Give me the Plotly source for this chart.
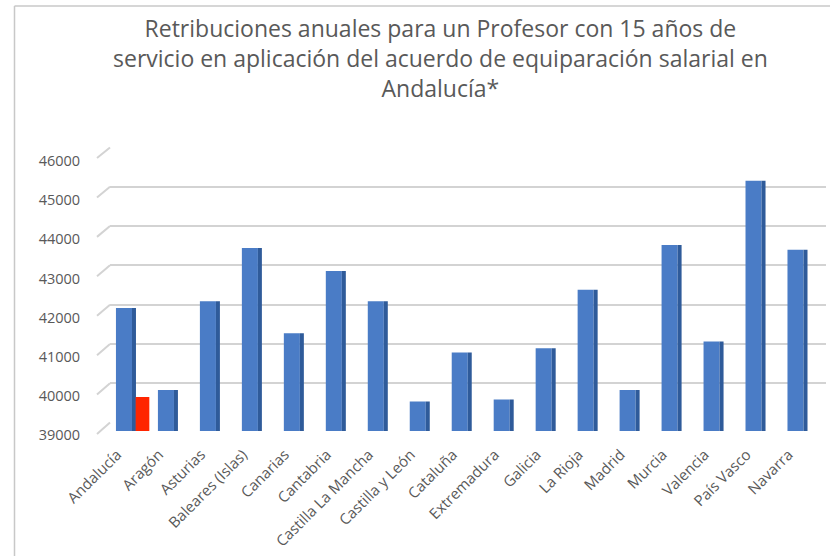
import plotly.graph_objects as go

# ---- data ----
categories = ["Andalucía", "Aragón", "Asturias", "Baleares (Islas)", "Canarias",
              "Cantabria", "Castilla La Mancha", "Castilla y León", "Cataluña",
              "Extremadura", "Galicia", "La Rioja", "Madrid", "Murcia",
              "Valencia", "País Vasco", "Navarra"]
salaries = [42120, 40040, 42290, 43640, 41480, 43060, 42290, 39750, 40990,
            39800, 41100, 42580, 40040, 43720, 41270, 45350, 43600]
red_category = ["Andalucía"]
red_values = [39860]
tick_values = [39000, 40000, 41000, 42000, 43000, 44000, 45000, 46000]
tick_labels = [str(v) for v in tick_values]
title_text = ("Retribuciones anuales para un Profesor con 15 años de<br>"
              "servicio en aplicación del acuerdo de equiparación salarial en<br>"
              "Andalucía*")

W, H = 830, 556
YMIN, YMAX = 39000, 46000

# front (bars) and back (gridlines) plot regions in pixels
FX0, FX1, FY_TOP, FY_BOT = 105, 818.5, 155, 431
BX0, BX1, BY_TOP, BY_BOT = 110, 826, 147.5, 422.5
# label axes (slightly shifted, as in the reference)
LX_SHIFT = -9
LY_TOP, LY_BOT = 161, 435

def fx(px):
    return px / W

def fy(py):
    return 1 - py / H

font_family = "Open Sans, Lato, sans-serif"
grey = "#595959"

fig = go.Figure()

# front faces
fig.add_trace(go.Bar(
    x=categories, y=salaries, xaxis="x2", yaxis="y2",
    offset=-0.239, width=0.382,
    marker=dict(color="#4A7CC6", line=dict(width=0)),
    showlegend=False, hoverinfo="x+y"))
# side faces (3D effect)
fig.add_trace(go.Bar(
    x=categories, y=salaries, xaxis="x2", yaxis="y2",
    offset=0.143, width=0.095,
    marker=dict(color="#2F5B9A", line=dict(width=0)),
    showlegend=False, hoverinfo="skip"))
# red bar
fig.add_trace(go.Bar(
    x=red_category, y=red_values, xaxis="x2", yaxis="y2",
    offset=0.231, width=0.325,
    marker=dict(color="#FF2500", line=dict(width=0)),
    showlegend=False, hoverinfo="x+y"))
# invisible helper traces so the grid / label axes are drawn
fig.add_trace(go.Scatter(x=[0], y=[YMIN], xaxis="x", yaxis="y", mode="markers",
                         marker=dict(opacity=0), showlegend=False, hoverinfo="skip"))
fig.add_trace(go.Scatter(x=[0], y=[YMIN], xaxis="x3", yaxis="y3", mode="markers",
                         marker=dict(opacity=0), showlegend=False, hoverinfo="skip"))

grid_col = "#D3D3D3"

shapes = []
# side-wall diagonal grid segments
for v in tick_values:
    frac = (v - YMIN) / (YMAX - YMIN)
    y_front = 158 + (1 - frac) * (434 - 158)
    y_back = BY_BOT - frac * (BY_BOT - BY_TOP)
    shapes.append(dict(type="line", xref="paper", yref="paper",
                       x0=fx(97), y0=fy(y_front), x1=fx(BX0), y1=fy(y_back),
                       line=dict(color=grid_col, width=2), layer="below"))
# chart border (top and left)
shapes.append(dict(type="line", xref="paper", yref="paper",
                   x0=fx(14.5), y0=fy(6), x1=1.0, y1=fy(6),
                   line=dict(color="#C8C8C8", width=1.5)))
shapes.append(dict(type="line", xref="paper", yref="paper",
                   x0=fx(14.5), y0=fy(6), x1=fx(14.5), y1=0,
                   line=dict(color="#C8C8C8", width=1.5)))

n = len(categories)
fig.update_layout(
    width=W, height=H,
    margin=dict(l=0, r=0, t=0, b=0),
    paper_bgcolor="white", plot_bgcolor="rgba(0,0,0,0)",
    barmode="overlay",
    font=dict(family=font_family, color=grey),
    annotations=[dict(text=title_text, x=fx(440), y=fy(58), xref="paper",
                      yref="paper", xanchor="center", yanchor="middle",
                      showarrow=False, align="center",
                      font=dict(size=23, color=grey, family=font_family))],
    # back wall gridlines
    xaxis=dict(domain=[fx(BX0), fx(BX1)], range=[0, 1], anchor="y",
               showgrid=False, zeroline=False, showticklabels=False,
               showline=False, fixedrange=True),
    yaxis=dict(domain=[fy(BY_BOT), fy(BY_TOP)], range=[YMIN, YMAX], anchor="x",
               tickvals=tick_values, showgrid=True, gridcolor=grid_col,
               gridwidth=2, zeroline=False, showticklabels=False,
               showline=False, fixedrange=True),
    # bars
    xaxis2=dict(domain=[fx(FX0), fx(FX1)], anchor="y2",
                range=[-0.5, n - 0.5],
                categoryorder="array", categoryarray=categories,
                showticklabels=False, showgrid=False,
                zeroline=False, showline=False, automargin=False),
    yaxis2=dict(domain=[fy(FY_BOT), fy(FY_TOP)], anchor="x2",
                range=[YMIN, YMAX], showticklabels=False, showgrid=False,
                zeroline=False, showline=False, automargin=False),
    # tick labels
    xaxis3=dict(domain=[fx(FX0 + LX_SHIFT), fx(FX1 + LX_SHIFT)], anchor="y3",
                range=[-0.5, n - 0.5], tickvals=list(range(n)), ticktext=categories,
                tickangle=-45, ticks="outside", ticklen=4, tickcolor="rgba(0,0,0,0)",
                tickfont=dict(size=15, color=grey), showgrid=False,
                zeroline=False, showline=False, automargin=False),
    yaxis3=dict(domain=[fy(LY_BOT), fy(LY_TOP)], anchor="x3",
                range=[YMIN, YMAX], tickvals=tick_values, ticktext=tick_labels,
                ticks="outside", ticklen=12, tickcolor="rgba(0,0,0,0)",
                tickfont=dict(size=14.5, color=grey), showgrid=False,
                zeroline=False, showline=False, automargin=False),
    shapes=shapes,
)

fig.write_html("out.html", config={"displayModeBar": False},
               post_script="document.body.style.margin='0';document.body.style.padding='0';")
